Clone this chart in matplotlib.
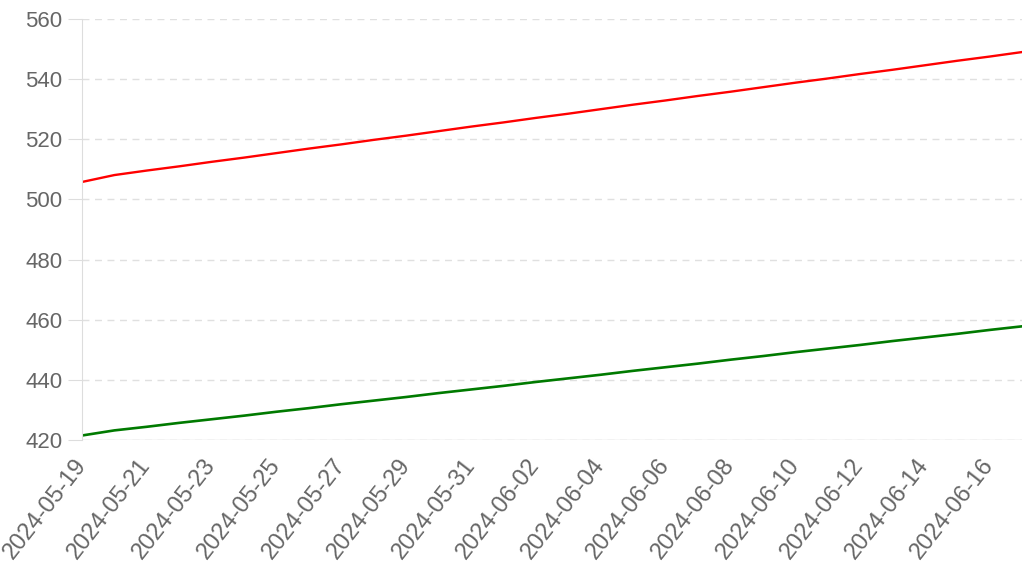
import matplotlib
matplotlib.use("Agg")
import matplotlib.pyplot as plt
import matplotlib.dates as mdates
import numpy as np

dates = np.arange(np.datetime64("2024-05-19"), np.datetime64("2024-06-18"))

red_vals = [505.8, 508.1, 509.6, 511.0, 512.5, 513.9, 515.4, 516.9, 518.3, 519.8,
            521.2, 522.7, 524.2, 525.6, 527.1, 528.5, 530.0, 531.5, 532.9, 534.4,
            535.8, 537.3, 538.8, 540.2, 541.7, 543.1, 544.6, 546.1, 547.5, 549.0]
green_vals = [421.5, 423.2, 424.4, 425.7, 426.9, 428.1, 429.4, 430.6, 431.9, 433.1,
              434.3, 435.6, 436.8, 438.0, 439.3, 440.5, 441.7, 443.0, 444.2, 445.4,
              446.7, 447.9, 449.2, 450.4, 451.6, 452.9, 454.1, 455.3, 456.6, 457.8]

plt.rcParams['font.family'] = ['Liberation Sans', 'DejaVu Sans']

fig = plt.figure(figsize=(10.24, 5.77), dpi=100)
ax = fig.add_axes([0.080, 0.2374, 0.918, 0.7297])

ax.plot(dates, red_vals, color='#ff0000', lw=1.7)
ax.plot(dates, green_vals, color='#007a00', lw=1.9)

ax.set_xlim(dates[0], dates[-1])
ax.set_ylim(420, 560)
ax.set_yticks(np.arange(420, 561, 20))
ax.set_xticks(dates[0:29:2])
ax.xaxis.set_major_formatter(mdates.DateFormatter('%Y-%m-%d'))

ax.grid(axis='y', color='#e0e0e0', linestyle=(0, (5, 4)), lw=1)
ax.axhline(420, color='#d8d8d8', lw=1, zorder=0.5)
ax.set_axisbelow(True)
for s in ['top', 'right', 'bottom']:
    ax.spines[s].set_visible(False)
ax.spines['left'].set_color('#dddddd')
ax.tick_params(axis='y', length=10, color='#dddddd', pad=4, labelsize=16, labelcolor='#666666')
ax.tick_params(axis='x', length=0, pad=15, labelsize=17, labelcolor='#666666')
for lab in ax.get_xticklabels():
    lab.set_rotation(52)
    lab.set_ha('right')
    lab.set_va('center')
    lab.set_rotation_mode('anchor')

fig.savefig('out.png', dpi=100)
